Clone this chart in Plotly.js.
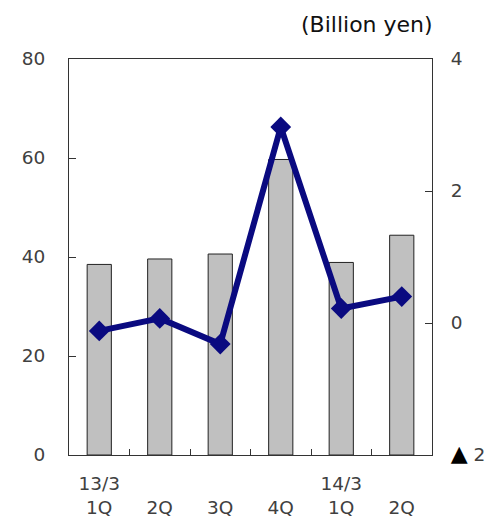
<!DOCTYPE html>
<html>
<head>
<meta charset="utf-8">
<script src="https://cdn.plot.ly/plotly-3.0.1.min.js"></script>
<style>html,body{margin:0;padding:0;background:#fff;}#chart{width:493px;height:521px;}</style>
</head>
<body>
<div id="chart"></div>
<script>
var categories = ["13/3 1Q", "13/3 2Q", "13/3 3Q", "13/3 4Q", "14/3 1Q", "14/3 2Q"];
var tickLabels = ["13/3<br>1Q", "\u00a0<br>2Q", "\u00a0<br>3Q", "\u00a0<br>4Q", "14/3<br>1Q", "\u00a0<br>2Q"];
var barValues = [38.5, 39.6, 40.6, 59.7, 38.9, 44.4];
var lineValues = [-0.12, 0.07, -0.32, 2.97, 0.22, 0.40];
var leftTicks = [0, 20, 40, 60, 80];
var rightTickVals = [-2, 0, 2, 4];
var rightTickText = ["<span style='font-size:22px;fill:#000'>\u25B2</span>\u00a02", "0", "2", "4"];

var font = "DejaVu Sans, Arial, sans-serif";
var tickFont = {family: font, size: 18.5, color: "#404040"};

var traces = [
  {
    type: "bar", x: categories, y: barValues, yaxis: "y",
    marker: {color: "#c0c0c0", line: {color: "#222", width: 1}},
    hoverinfo: "skip"
  },
  {
    type: "scatter", mode: "lines+markers", x: categories, y: lineValues, yaxis: "y2",
    line: {color: "#0a0a80", width: 6},
    marker: {symbol: "diamond", size: 16, color: "#0a0a80"},
    hoverinfo: "skip"
  }
];

var layout = {
  width: 493, height: 521,
  margin: {l: 69, r: 61, t: 59, b: 66},
  paper_bgcolor: "#fff", plot_bgcolor: "#fff",
  showlegend: false,
  bargap: 0.6,
  xaxis: {
    type: "category", tickvals: categories, ticktext: tickLabels,
    tickson: "boundaries", ticks: "inside", ticklen: 6, tickcolor: "#333",
    showline: true, linecolor: "#333", linewidth: 1, mirror: true,
    showgrid: false, zeroline: false,
    tickfont: tickFont, ticklabelstandoff: 12, fixedrange: true
  },
  yaxis: {
    range: [0, 80], tickvals: leftTicks, ticks: "inside", ticklen: 7, tickcolor: "#333",
    showline: true, linecolor: "#333", linewidth: 1,
    showgrid: false, zeroline: false, tickfont: tickFont, ticklabelstandoff: 19
  },
  yaxis2: {
    overlaying: "y", side: "right", range: [-2, 4],
    tickvals: rightTickVals, ticktext: rightTickText,
    ticks: "inside", ticklen: 7, tickcolor: "#333",
    showline: true, linecolor: "#333", linewidth: 1,
    showgrid: false, zeroline: false, tickfont: tickFont, ticklabelstandoff: 14
  },
  annotations: [
    {
      text: "(Billion yen)", xref: "paper", yref: "paper", x: 1.008, y: 1.0,
      xanchor: "right", yanchor: "bottom", yshift: 20, showarrow: false,
      font: {family: font, size: 22, color: "#111"}
    }
  ]
};

Plotly.newPlot("chart", traces, layout, {displayModeBar: false, staticPlot: true});
</script>
</body>
</html>
